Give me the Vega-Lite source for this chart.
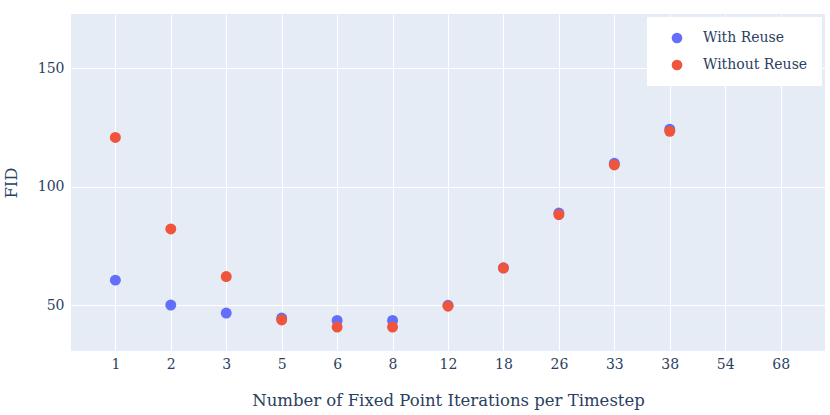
{
  "$schema": "https://vega.github.io/schema/vega-lite/v6.json",
  "width": 754,
  "height": 337,
  "autosize": {"type": "none"},
  "padding": {"left": 71, "top": 14, "right": 5, "bottom": 64},
  "background": "white",
  "config": {
    "font": "DejaVu Serif",
    "view": {"fill": "#E5ECF6", "stroke": null},
    "axis": {
      "labelColor": "#2a3f5f",
      "titleColor": "#2a3f5f",
      "labelFontSize": 14,
      "titleFontSize": 16.5,
      "titleFontWeight": "normal",
      "gridColor": "white",
      "gridWidth": 1,
      "gridOpacity": 1,
      "domain": false,
      "ticks": false
    }
  },
  "data": {
    "values": [
      {"iter": "1", "series": "With Reuse", "fid": 60.5},
      {"iter": "2", "series": "With Reuse", "fid": 50.0},
      {"iter": "3", "series": "With Reuse", "fid": 46.6},
      {"iter": "5", "series": "With Reuse", "fid": 44.5},
      {"iter": "6", "series": "With Reuse", "fid": 43.5},
      {"iter": "8", "series": "With Reuse", "fid": 43.5},
      {"iter": "12", "series": "With Reuse", "fid": 49.9},
      {"iter": "18", "series": "With Reuse", "fid": 65.7},
      {"iter": "26", "series": "With Reuse", "fid": 88.8},
      {"iter": "33", "series": "With Reuse", "fid": 109.8},
      {"iter": "38", "series": "With Reuse", "fid": 124.2},
      {"iter": "1", "series": "Without Reuse", "fid": 120.7},
      {"iter": "2", "series": "Without Reuse", "fid": 82.1},
      {"iter": "3", "series": "Without Reuse", "fid": 62.0},
      {"iter": "5", "series": "Without Reuse", "fid": 43.7},
      {"iter": "6", "series": "Without Reuse", "fid": 40.7},
      {"iter": "8", "series": "Without Reuse", "fid": 40.7},
      {"iter": "12", "series": "Without Reuse", "fid": 49.5},
      {"iter": "18", "series": "Without Reuse", "fid": 65.6},
      {"iter": "26", "series": "Without Reuse", "fid": 88.1},
      {"iter": "33", "series": "Without Reuse", "fid": 109.1},
      {"iter": "38", "series": "Without Reuse", "fid": 123.3}
    ]
  },
  "mark": {"type": "point", "filled": true, "opacity": 1, "size": 120},
  "encoding": {
    "x": {
      "field": "iter",
      "type": "ordinal",
      "title": "Number of Fixed Point Iterations per Timestep",
      "scale": {"type": "point", "padding": 0.8, "domain": ["1","2","3","5","6","8","12","18","26","33","38","54","68"]},
      "axis": {"labelAngle": 0, "labelPadding": 6, "titlePadding": 21, "grid": true}
    },
    "y": {
      "field": "fid",
      "type": "quantitative",
      "title": "FID",
      "scale": {"domain": [30.6, 172.8], "nice": false, "zero": false},
      "axis": {"values": [50, 100, 150], "labelPadding": 7, "titlePadding": 18}
    },
    "color": {
      "field": "series",
      "type": "nominal",
      "title": null,
      "scale": {"domain": ["With Reuse", "Without Reuse"], "range": ["#636efa", "#EF553B"]},
      "legend": {
        "orient": "none",
        "legendX": 576,
        "legendY": 3,
        "fillColor": "white",
        "padding": 14,
        "symbolOffset": 9,
        "symbolSize": 115,
        "symbolType": "circle",
        "symbolOpacity": 1,
        "labelFontSize": 14,
        "labelColor": "#2a3f5f",
        "labelOffset": 19,
        "rowPadding": 13
      }
    }
  }
}
